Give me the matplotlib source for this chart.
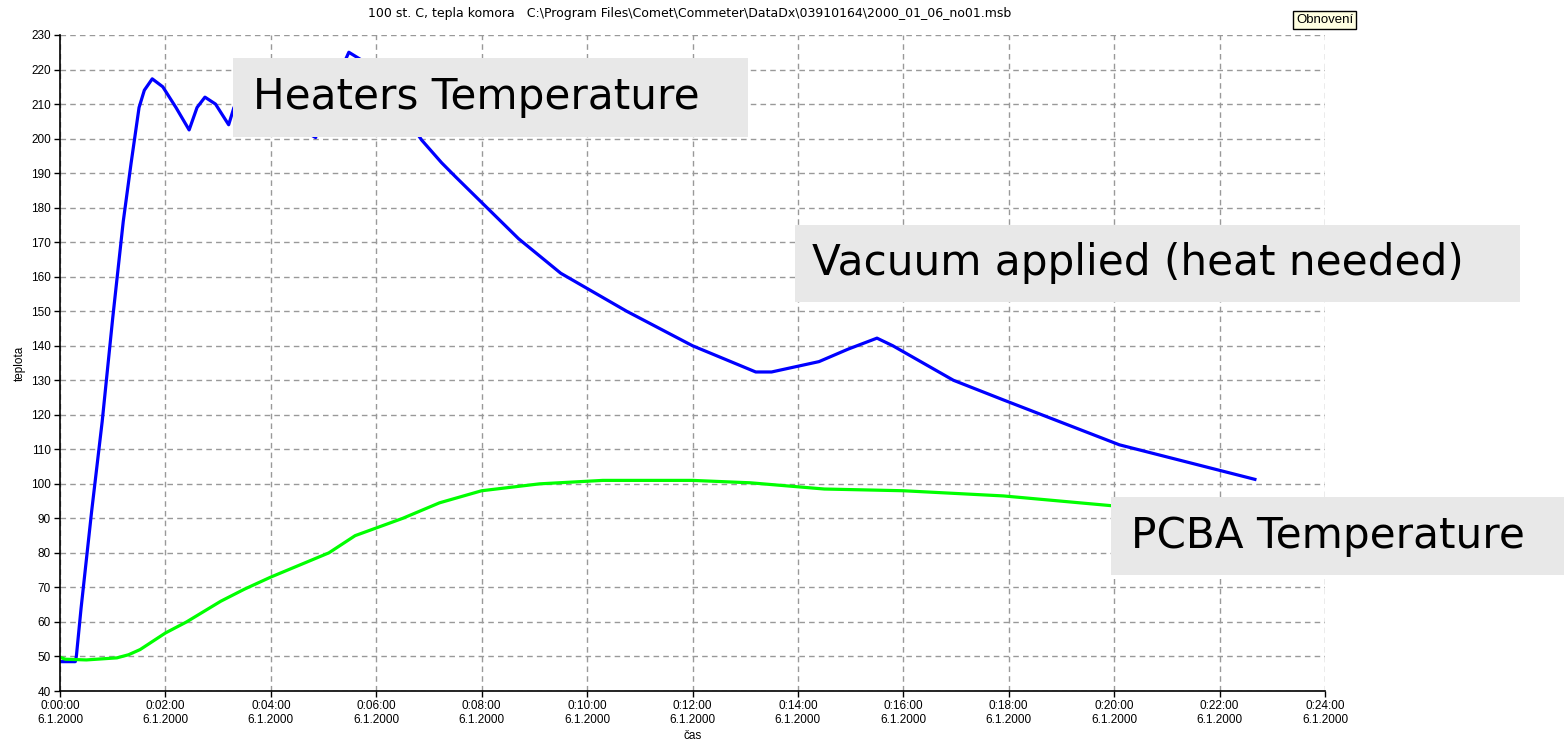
import numpy as np
import matplotlib.pyplot as plt
from matplotlib.patches import Rectangle

# ------------------------------------------------------------
# Data (time in minutes from 0:00:00, temperatures in deg C)
# ------------------------------------------------------------
heater_t = [0.0, 0.29, 0.31, 0.4, 0.6, 0.8, 1.0, 1.2, 1.35, 1.5, 1.6, 1.75,
            1.95, 2.2, 2.45, 2.6, 2.75, 2.95, 3.2, 3.3, 3.6, 4.2, 4.85, 5.1,
            5.48, 5.8, 6.3, 6.86, 7.24, 7.5, 8.1, 8.7, 9.5, 10.75, 12.0,
            13.2, 13.5, 14.4, 14.95, 15.5, 15.8, 16.95, 17.9, 20.1, 22.67]
heater_v = [48.5, 48.5, 50, 64, 92, 118, 148, 176, 193, 209, 214, 217.3,
            215, 209, 202.5, 209, 212, 210, 204, 209, 211, 206, 200.3, 212,
            225, 222, 212, 199.6, 193, 189, 180, 171, 161, 150, 140,
            132.4, 132.4, 135.4, 139, 142.2, 140, 130, 124.3, 111.3, 101.3]

pcba_t = [0.0, 0.1, 0.5, 1.08, 1.3, 1.52, 2.0, 2.4, 3.05, 3.5, 4.0, 5.1, 5.6,
          6.5, 7.2, 8.0, 9.1, 10.3, 12.0, 13.1, 14.5, 16.0, 17.9, 20.0, 22.6]
pcba_v = [49.8, 49.2, 49.0, 49.6, 50.5, 52, 56.8, 60, 66, 69.5, 73, 80, 85,
          90, 94.5, 98, 100, 101, 101, 100.3, 98.5, 98, 96.5, 93.6, 91]

x_ticks = list(range(0, 25, 2))
x_labels = ['0:%02d:00\n6.1.2000' % m for m in x_ticks]
y_ticks = list(range(40, 231, 10))

title = (r'100 st. C, tepla komora   C:\Program Files\Comet\Commeter'
         r'\DataDx\03910164\2000_01_06_no01.msb')

# ------------------------------------------------------------
# Figure
# ------------------------------------------------------------
plt.rcParams['font.family'] = 'Liberation Sans'
plt.rcParams['font.size'] = 8

fig = plt.figure(figsize=(15.64, 7.42), dpi=100)
ax = fig.add_axes([60 / 1564, 1 - 691 / 742, 1265 / 1564, 656 / 742])

ax.plot(heater_t, heater_v, color='#0000ff', lw=2.3, solid_joinstyle='round')
ax.plot(pcba_t, pcba_v, color='#00ff00', lw=2.3, solid_joinstyle='round')

ax.set_xlim(0, 24)
ax.set_ylim(40, 230)
ax.set_xticks(x_ticks)
ax.set_xticklabels(x_labels, linespacing=1.25)
ax.set_yticks(y_ticks)
ax.tick_params(direction='out', length=4.5, width=1, pad=2, labelsize=8.5)

ax.grid(True, color='#999999', linestyle=(0, (4, 3)), lw=1)
for s in ['top', 'right']:
    ax.spines[s].set_visible(False)
for s in ['left', 'bottom']:
    ax.spines[s].set_linewidth(1.2)

ax.set_xlabel('čas', fontsize=8.5, labelpad=3)
ax.set_ylabel('teplota', fontsize=8.5, labelpad=4)
fig.text(690 / 1564, 1 - 14 / 742, title, ha='center', va='center',
         fontsize=9, family='DejaVu Sans')

# "Obnovení" button
fig.text(1296 / 1564, 1 - 20 / 742, 'Obnovení', ha='left', va='center', fontsize=9.5,
         bbox=dict(boxstyle='square,pad=0.2', fc='#ffffe1', ec='black', lw=1))

# Grey annotation boxes
boxes = [
    ('Heaters Temperature', 233, 58, 748, 137, 253),
    ('Vacuum applied (heat needed)', 795, 225, 1520, 302, 812),
    ('PCBA Temperature', 1111, 497, 1564, 575, 1131),
]
for label, x0, y0, x1, y1, tx in boxes:
    fig.add_artist(Rectangle((x0 / 1564, 1 - y1 / 742), (x1 - x0) / 1564,
                             (y1 - y0) / 742, transform=fig.transFigure,
                             fc='#e8e8e8', ec='none', zorder=5))
    fig.text(tx / 1564, 1 - (y0 + y1) / 2 / 742, label, ha='left', va='center',
             fontsize=30.3, family='DejaVu Sans', zorder=6)

fig.savefig('out.png', dpi=100)
